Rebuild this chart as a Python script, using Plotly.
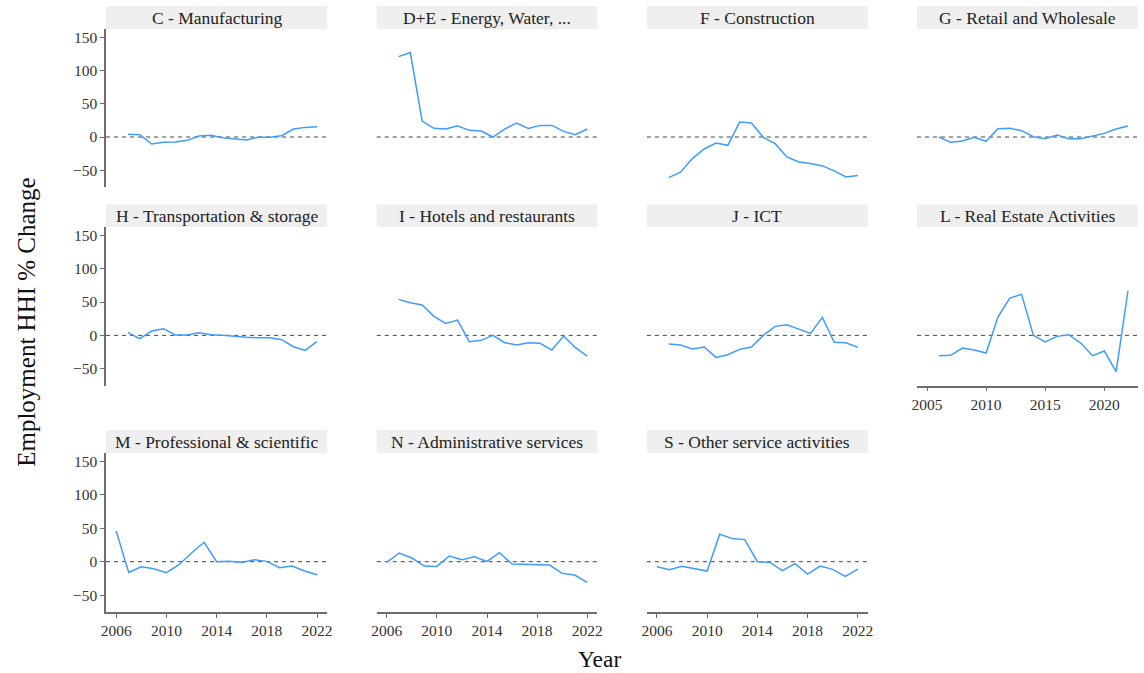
import plotly.graph_objects as go

# ---- data: % change in employment HHI by sector, 2006-2022 (None = no value) ----
years = list(range(2006, 2023))

sectors = [
    "C - Manufacturing", "D+E - Energy, Water, ...", "F - Construction", "G - Retail and Wholesale",
    "H - Transportation & storage", "I - Hotels and restaurants", "J - ICT", "L - Real Estate Activities",
    "M - Professional & scientific", "N - Administrative services", "S - Other service activities",
]

manufacturing = [4, 3.5, -10.5, -8, -7.5, -5, 1.5, 2.5, -1, -2.5, -4.5, -0.5, -0.5, 2, 12, 14.5, 15.5]
energy_water = [121, 127, 24, 13, 12, 17, 10, 9, 0, 12, 21, 13, 17.5, 17.5, 8.5, 3.5, 12]
construction = [-61, -53, -32.5, -18, -9, -12.5, 22.5, 21, -0.5, -10, -30, -37.5, -40, -43.5, -51, -60, -58]
retail = [0, -8, -6, -0.5, -6.5, 12.5, 13, 9.5, 0.5, -2.5, 3, -2.5, -2.5, 1, 5.5, 12, 16.5]
transport = [4, -5, 6.5, 10, 0.5, 0.5, 4, 1, 0, -2, -3, -3.5, -3.5, -6.5, -17, -22.5, -9]
hotels = [54, 49, 45.5, 28.5, 18, 23, -9.5, -7.5, 0, -11, -14.5, -11, -12, -22, -1, -18.5, -31]
ict = [-13, -14.5, -20.5, -17.5, -33, -29, -21, -17.5, 0, 13.5, 16, 9.5, 3, 27, -10.5, -11, -18]
real_estate = [-30.5, -30, -19, -22, -26.5, 27.5, 56, 61.5, 0, -10, -1.5, 1, -11.5, -30.5, -23.5, -54.5, 66.5]
professional = [46, -16, -7.5, -10.5, -16.5, -4.5, 13, 29, 0, 0.5, -1, 3, 0.5, -9, -6.5, -14, -19.5]
administrative = [-1, 13, 5.5, -6.5, -7, 8.5, 3, 7.5, 0.5, 13.5, -3.5, -4, -5.5, -5, -17.5, -20, -31]
other_services = [-7.5, -12, -7, -10, -14, 41, 34.5, 33, 0, -1, -13.5, -3, -18.5, -6.5, -11.5, -22, -11]

values = [
    manufacturing, energy_water, construction, retail,
    transport, hotels, ict, real_estate,
    professional, administrative, other_services,
]

# first year covered by each sector's source table (sets each panel's own x range)
span_start = [2005, 2005, 2005, 2005, 2005, 2005, 2005, 2005, 2006, 2006, 2006]

y_ticks = [-50, 0, 50, 100, 150]
x_ticks_main = [2006, 2010, 2014, 2018, 2022]
x_ticks_last = [2005, 2010, 2015, 2020]

# ---- layout geometry (pixels) ----
W, H = 1144, 673
col_px = [(102, 325), (375, 597.5), (647.5, 870.5), (920, 1143)]
row_px = [(29, 187), (227, 385.5), (453, 612)]       # plot area top/bottom
strip_px = [(6, 29), (204.5, 227), (430, 453)]       # facet label boxes
y_range = [-75.2, 162.5]

FONT = "Liberation Serif"
LINE_BLUE = "#3d9cff"
AXIS_GREY = "#6e6e6e"


def px_x(v):
    return v / W


def px_y(v):
    return 1 - v / H


def padded(lo, hi, frac=0.05):
    pad = (hi - lo) * frac
    return [lo - pad, hi + pad]


fig = go.Figure()
shapes, annotations = [], []

for i, (name, ys) in enumerate(zip(sectors, values)):
    r, c = divmod(i, 4)
    n = i + 1
    xa = "xaxis" if n == 1 else f"xaxis{n}"
    ya = "yaxis" if n == 1 else f"yaxis{n}"
    xref = "x" if n == 1 else f"x{n}"
    yref = "y" if n == 1 else f"y{n}"

    x0, x1 = col_px[c]
    top, bot = row_px[r]
    # bottom panel of each column carries the x axis
    is_bottom = (r == 2) or (r == 1 and c == 3)
    last_col = c == 3

    fig.add_trace(go.Scatter(
        x=years, y=ys, mode="lines", xaxis=xref, yaxis=yref,
        line=dict(color=LINE_BLUE, width=1.5), showlegend=False, hoverinfo="x+y",
    ))

    fig.layout[xa] = dict(
        domain=[px_x(x0), px_x(x1)], anchor=yref,
        range=padded(span_start[i], years[-1]),
        tickvals=x_ticks_last if last_col else x_ticks_main,
        showgrid=False, zeroline=False,
        showline=is_bottom, linecolor=AXIS_GREY, linewidth=1.5,
        ticks="outside" if is_bottom else "", ticklen=4, tickcolor=AXIS_GREY, tickwidth=1.2,
        showticklabels=is_bottom,
        tickfont=dict(family=FONT, size=15.5, color="#333333"),
    )
    fig.layout[ya] = dict(
        domain=[px_y(bot), px_y(top)], anchor=xref,
        range=y_range, tickvals=y_ticks,
        showgrid=False, zeroline=False,
        showline=(c == 0), linecolor=AXIS_GREY, linewidth=1.5,
        ticks="outside" if c == 0 else "", ticklen=4, tickcolor=AXIS_GREY, tickwidth=1.2,
        showticklabels=(c == 0),
        tickfont=dict(family=FONT, size=15.5, color="#333333"),
    )

    # dashed zero reference line
    shapes.append(dict(
        type="line", xref=f"{xref} domain", yref=yref, x0=0, x1=1, y0=0, y1=0,
        line=dict(color="#444444", width=1, dash="4px,4px"), layer="below",
    ))

    # facet strip
    s0, s1 = strip_px[r]
    shapes.append(dict(
        type="rect", xref="paper", yref="paper",
        x0=px_x(x0), x1=px_x(x1), y0=px_y(s1), y1=px_y(s0),
        fillcolor="#efefef", line=dict(width=0), layer="below",
    ))
    annotations.append(dict(
        text=name, xref="paper", yref="paper",
        x=px_x((x0 + x1) / 2), y=px_y((s0 + s1) / 2),
        xanchor="center", yanchor="middle", showarrow=False,
        font=dict(family=FONT, size=17.5, color="#222222"),
    ))

annotations.append(dict(
    text="Employment HHI % Change", xref="paper", yref="paper",
    x=px_x(21), y=px_y(322), xanchor="center", yanchor="middle",
    textangle=-90, showarrow=False, font=dict(family=FONT, size=25, color="#111111"),
))
annotations.append(dict(
    text="Year", xref="paper", yref="paper",
    x=px_x(600), y=px_y(659), xanchor="center", yanchor="middle",
    showarrow=False, font=dict(family=FONT, size=23.5, color="#111111"),
))

fig.update_layout(
    width=W, height=H, margin=dict(l=0, r=0, t=0, b=0),
    paper_bgcolor="white", plot_bgcolor="white",
    shapes=shapes, annotations=annotations,
)

fig.write_html("out.html")
